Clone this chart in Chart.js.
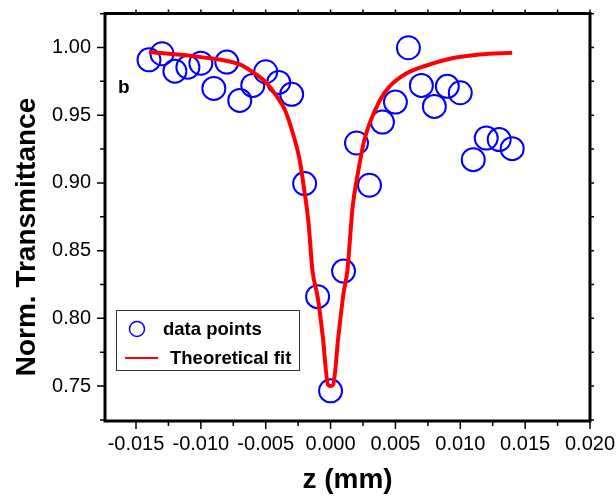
<!DOCTYPE html>
<html>
<head>
<meta charset="utf-8">
<script src="https://cdn.jsdelivr.net/npm/chart.js@4"></script>
<style>
    body { margin: 0; background: #fff; }
    #wrap { width: 616px; height: 500px; }
</style>
</head>
<body>
<div id="wrap"><canvas id="zscanChart" width="616" height="500"></canvas></div>
<script>
// measured z positions (mm) and normalized transmittance
const zPoints = [-0.014, -0.013, -0.012, -0.011, -0.010, -0.009, -0.008, -0.007, -0.006, -0.005,
    -0.004, -0.003, -0.002, -0.001, 0.000, 0.001, 0.002, 0.003, 0.004, 0.005,
    0.006, 0.007, 0.008, 0.009, 0.010, 0.011, 0.012, 0.013, 0.014];
const tPoints = [0.9909, 0.9954, 0.9825, 0.9855, 0.9884, 0.9698, 0.9892, 0.9609, 0.9720, 0.9821,
    0.9742, 0.9654, 0.8995, 0.8160, 0.7465, 0.8349, 0.9295, 0.8983, 0.9449, 0.9597,
    0.9998, 0.9720, 0.9565, 0.9713, 0.9666, 0.9172, 0.9331, 0.9320, 0.9253];

// theoretical fit curve
const zFit = [-0.0140, -0.0100, -0.0070, -0.0060, -0.0050, -0.0042, -0.0035, -0.0029, -0.0024, -0.0021,
    -0.0017, -0.0014, -0.0010, -0.0006, -0.0002, 0.0000, 0.0002, 0.0006, 0.0010, 0.0013,
    0.0017, 0.0021, 0.0026, 0.0038, 0.0045, 0.0058, 0.0074, 0.0092, 0.0115, 0.0140];
const tFit = [0.9966, 0.9929, 0.9875, 0.9818, 0.9744, 0.9646, 0.9535, 0.9364, 0.9180, 0.8995,
    0.8705, 0.8356, 0.8160, 0.7865, 0.7510, 0.7500, 0.7510, 0.7865, 0.8185, 0.8356,
    0.8823, 0.9069, 0.9315, 0.9610, 0.9707, 0.9806, 0.9867, 0.9917, 0.9948, 0.9961];

const xTicks = [-0.015, -0.010, -0.005, 0.000, 0.005, 0.010, 0.015, 0.020];
const yTicks = [0.75, 0.80, 0.85, 0.90, 0.95, 1.00];

const xTitle = 'z (mm)';
const yTitle = 'Norm. Transmittance';
const panelLabel = 'b';
const legendLabels = ['data points', 'Theoretical fit'];

function midpoints(arr) {
    const out = [];
    for (let i = 0; i < arr.length - 1; i++) out.push((arr[i] + arr[i + 1]) / 2);
    return out;
}

// frame, ticks, titles and in-plot legend (Origin style)
const originFrame = {
    id: 'originFrame',
    afterDraw(chart) {
        const ctx = chart.ctx;
        const xs = chart.scales.x;
        const ys = chart.scales.y;
        const a = {
            left: xs.getPixelForValue(xs.min),
            right: xs.getPixelForValue(xs.max),
            top: ys.getPixelForValue(ys.max),
            bottom: ys.getPixelForValue(ys.min)
        };
        ctx.save();
        ctx.strokeStyle = '#000';

        ctx.lineWidth = 1.5;
        const xMinor = midpoints(xTicks);
        const yMinor = midpoints(yTicks);
        ctx.beginPath();
        xTicks.forEach(v => {
            const px = xs.getPixelForValue(v);
            ctx.moveTo(px, a.bottom); ctx.lineTo(px, a.bottom + 8);
            ctx.moveTo(px, a.top); ctx.lineTo(px, a.top - 4);
        });
        xMinor.concat([-0.0175]).forEach(v => {
            const px = xs.getPixelForValue(v);
            if (px < a.left - 1) return;
            ctx.moveTo(px, a.bottom); ctx.lineTo(px, a.bottom + 5);
            ctx.moveTo(px, a.top); ctx.lineTo(px, a.top - 4);
        });
        yTicks.forEach(v => {
            const py = ys.getPixelForValue(v);
            ctx.moveTo(a.left, py); ctx.lineTo(a.left - 8, py);
            ctx.moveTo(a.right, py); ctx.lineTo(a.right + 4, py);
        });
        yMinor.concat([0.725, 1.025]).forEach(v => {
            const py = ys.getPixelForValue(v);
            ctx.moveTo(a.left, py); ctx.lineTo(a.left - 5, py);
            ctx.moveTo(a.right, py); ctx.lineTo(a.right + 4, py);
        });
        ctx.stroke();

        ctx.lineWidth = 3;
        ctx.strokeRect(a.left, a.top, a.right - a.left, a.bottom - a.top);

        // axis titles
        ctx.fillStyle = '#000';
        ctx.font = 'bold 28px "Liberation Sans", Arial, sans-serif';
        ctx.textAlign = 'center';
        ctx.textBaseline = 'alphabetic';
        ctx.fillText(xTitle, (a.left + a.right) / 2, 488);
        ctx.save();
        ctx.translate(35, 237);
        ctx.rotate(-Math.PI / 2);
        ctx.fillText(yTitle, 0, 0);
        ctx.restore();

        // panel label
        ctx.font = 'bold 19px "Liberation Sans", Arial, sans-serif';
        ctx.textAlign = 'left';
        ctx.textBaseline = 'middle';
        ctx.fillText(panelLabel, 118, 88);

        // legend box
        ctx.lineWidth = 1;
        ctx.strokeStyle = '#333';
        ctx.strokeRect(116.5, 310.5, 183, 60);
        ctx.strokeStyle = '#0000ff';
        ctx.lineWidth = 1.5;
        ctx.beginPath();
        ctx.arc(137, 329, 7.5, 0, Math.PI * 2);
        ctx.stroke();
        ctx.strokeStyle = '#ff0000';
        ctx.lineWidth = 2;
        ctx.beginPath();
        ctx.moveTo(125, 358); ctx.lineTo(158, 358);
        ctx.stroke();
        ctx.font = 'bold 18.5px "Liberation Sans", Arial, sans-serif';
        ctx.fillText(legendLabels[0], 163, 330);
        ctx.fillText(legendLabels[1], 170, 359);
        ctx.restore();
    }
};

const ctx = document.getElementById('zscanChart').getContext('2d');
new Chart(ctx, {
    type: 'scatter',
    data: {
        datasets: [
            {
                label: legendLabels[1],
                type: 'line',
                data: zFit.map((z, i) => ({ x: z, y: tFit[i] })),
                borderColor: '#ff0000',
                borderWidth: 4,
                pointRadius: 0,
                fill: false,
                cubicInterpolationMode: 'monotone'
            },
            {
                label: legendLabels[0],
                data: zPoints.map((z, i) => ({ x: z, y: tPoints[i] })),
                pointStyle: 'circle',
                pointRadius: 11.5,
                pointBorderWidth: 2,
                pointBorderColor: '#0000ff',
                pointBackgroundColor: 'rgba(0,0,0,0)',
                showLine: false
            }
        ]
    },
    options: {
        responsive: false,
        animation: false,
        layout: { padding: { left: 0, right: 26, top: 13, bottom: 0 } },
        plugins: {
            legend: { display: false },
            tooltip: { enabled: false }
        },
        scales: {
            x: {
                type: 'linear',
                min: -0.01739,
                max: 0.020,
                afterFit: s => { s.height = 79; s.paddingLeft = 0; s.paddingRight = 0; },
                afterBuildTicks: s => { s.ticks = xTicks.map(v => ({ value: v })); },
                grid: { display: false, drawTicks: false },
                border: { display: false },
                ticks: {
                    padding: 11,
                    color: '#000',
                    maxRotation: 0,
                    autoSkip: false,
                    font: { family: '"Liberation Sans", Arial, sans-serif', size: 20 },
                    callback: v => v.toFixed(3)
                }
            },
            y: {
                type: 'linear',
                min: 0.7242,
                max: 1.0251,
                afterFit: s => { s.width = 105; s.paddingTop = 0; s.paddingBottom = 0; },
                afterBuildTicks: s => { s.ticks = yTicks.map(v => ({ value: v })); },
                grid: { display: false, drawTicks: false },
                border: { display: false },
                ticks: {
                    padding: 14,
                    color: '#000',
                    autoSkip: false,
                    font: { family: '"Liberation Sans", Arial, sans-serif', size: 20 },
                    callback: v => v.toFixed(2)
                }
            }
        }
    },
    plugins: [originFrame]
});
</script>
</body>
</html>
